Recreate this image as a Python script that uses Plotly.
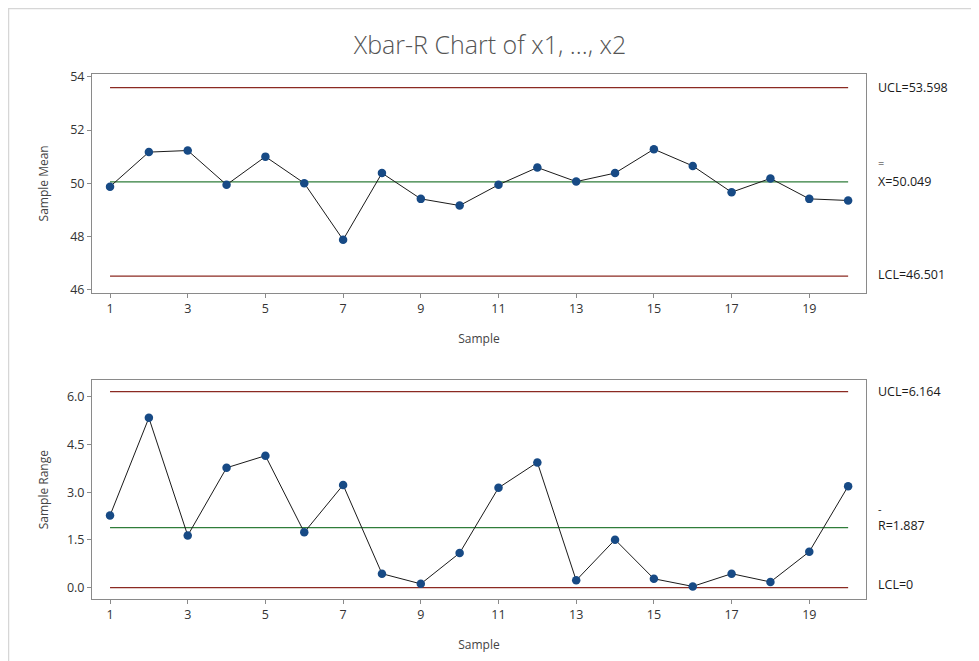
import plotly.graph_objects as go
from plotly.subplots import make_subplots

samples = list(range(1, 21))
sample_means = [49.87, 51.17, 51.23, 49.94, 51.00, 50.00, 47.87, 50.38, 49.41, 49.16,
                49.94, 50.59, 50.06, 50.38, 51.28, 50.65, 49.66, 50.18, 49.41, 49.35]
sample_ranges = [2.27, 5.34, 1.64, 3.77, 4.15, 1.74, 3.23, 0.44, 0.12, 1.09,
                 3.14, 3.94, 0.23, 1.51, 0.28, 0.04, 0.44, 0.18, 1.13, 3.19]
xbar_ucl, xbar_center, xbar_lcl = 53.598, 50.049, 46.501
r_ucl, r_center, r_lcl = 6.164, 1.887, 0.0
x_ticks = [1, 3, 5, 7, 9, 11, 13, 15, 17, 19]
mean_ticks = [46, 48, 50, 52, 54]
range_ticks = [0.0, 1.5, 3.0, 4.5, 6.0]

RED = "#8b2a22"
GREEN = "#2f7d3a"
BLUE = "#174a85"
FONT = "Open Sans"

# figure is 971x653 because the page body adds an 8px margin
W, H = 971, 653
L, R, T, B = 84, 113, 66, 62
PW, PH = W - L - R, H - T - B

fig = make_subplots(rows=2, cols=1, vertical_spacing=0.167)

def add_chart(row, values, ucl, cl, lcl):
    for val, col in [(ucl, RED), (lcl, RED), (cl, GREEN)]:
        fig.add_trace(go.Scatter(x=[samples[0], samples[-1]], y=[val, val], mode="lines",
                                 line=dict(color=col, width=1.3), hoverinfo="skip",
                                 showlegend=False), row=row, col=1)
    fig.add_trace(go.Scatter(x=samples, y=values, mode="lines+markers",
                             line=dict(color="#1a1a1a", width=1),
                             marker=dict(color=BLUE, size=8.5),
                             showlegend=False), row=row, col=1)

add_chart(1, sample_means, xbar_ucl, xbar_center, xbar_lcl)
add_chart(2, sample_ranges, r_ucl, r_center, r_lcl)

axis_common = dict(showgrid=False, zeroline=False, showline=True, linecolor="#8a8a8a",
                   linewidth=1, mirror=True, ticks="outside", ticklen=4, tickcolor="#8a8a8a",
                   tickfont=dict(family=FONT, size=12.5, color="#333"))

for r in (1, 2):
    fig.update_xaxes(range=[0.536, 20.46], tickvals=x_ticks,
                     title=dict(text="Sample", font=dict(family=FONT, size=12, color="#444"),
                                standoff=18),
                     row=r, col=1, **axis_common)

fig.update_yaxes(range=[45.88, 54.11], tickvals=mean_ticks,
                 title=dict(text="Sample Mean", font=dict(family=FONT, size=12, color="#444"),
                            standoff=19),
                 row=1, col=1, **axis_common)
fig.update_yaxes(range=[-0.356, 6.52], tickvals=range_ticks, tickformat=".1f",
                 title=dict(text="Sample Range", font=dict(family=FONT, size=12, color="#444"),
                            standoff=15),
                 row=2, col=1, **axis_common)

lab_x = (868 - L) / PW
labfont = dict(family=FONT, size=12.5, color="#1a1a1a")

def lab(text, y, yref, yshift=0, size=None):
    f = dict(labfont)
    if size:
        f["size"] = size
    fig.add_annotation(x=lab_x, xref="paper", y=y, yref=yref, text=text, showarrow=False,
                       xanchor="left", yanchor="middle", yshift=yshift, font=f)

lab(f"UCL={xbar_ucl:.3f}", xbar_ucl, "y")
lab("=", xbar_center, "y", yshift=19, size=11)
lab(f"X={xbar_center:.3f}", xbar_center, "y")
lab(f"LCL={xbar_lcl:.3f}", xbar_lcl, "y", yshift=2)
lab(f"UCL={r_ucl:.3f}", r_ucl, "y2")
lab("-", r_center, "y2", yshift=19, size=11)
lab(f"R={r_center:.3f}", r_center, "y2", yshift=2)
lab(f"LCL={r_lcl:g}", r_lcl, "y2", yshift=3)

# outer frame of the window
fig.add_shape(type="rect", xref="paper", yref="paper",
              x0=(0.5 - L) / PW, x1=(W + 10 - L) / PW,
              y0=(H - B - H - 10) / PH, y1=(H - B - 0.5) / PH,
              line=dict(color="#d6d6d6", width=1.5), fillcolor="rgba(0,0,0,0)", layer="below")

fig.update_layout(
    width=W, height=H,
    margin=dict(l=L, r=R, t=T, b=B),
    paper_bgcolor="white", plot_bgcolor="white",
    title=dict(text="Xbar-R Chart of x1, ..., x2", x=482 / W, xanchor="center",
               y=1 - 37 / H, yanchor="middle",
               font=dict(family=FONT, size=25, color="#555", weight=300)),
)

fig.write_html("out.html")
